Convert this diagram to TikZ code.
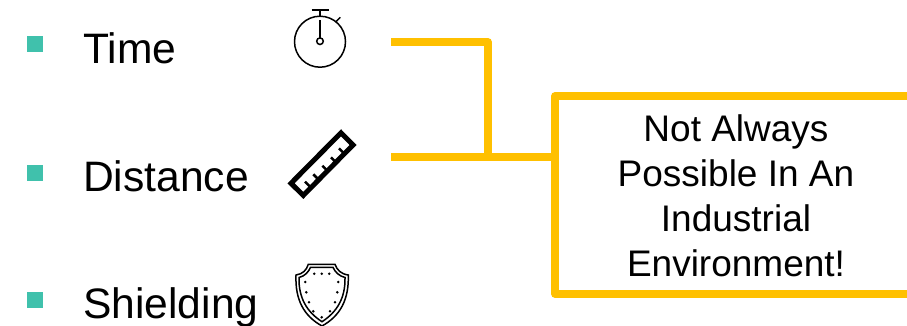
\documentclass[tikz,border=0pt]{standalone}
\usepackage{fontspec}
\setmainfont{Liberation Sans}
\definecolor{bulletgreen}{HTML}{40C1AC}
\definecolor{linkamber}{HTML}{FFC000}
\tikzset{
  item/.style={anchor=base west,inner sep=0pt,font=\fontsize{42.6}{42.6}\selectfont},
  bullet/.style={fill=bulletgreen,draw=none,minimum size=16pt,inner sep=0pt},
  link/.style={draw=linkamber,line width=7.5pt,line join=round},
  icon/.style={draw=black,line width=1.5pt},
}
\begin{document}
\begin{tikzpicture}[x=1pt,y=-1pt]
  \useasboundingbox (0,0) rectangle (907,325);

  % bullets and labels
  \node[bullet] (bt) at (35,44) {};
  \node[bullet] (bd) at (35,173) {};
  \node[bullet] (bs) at (35,300) {};
  \node[item] (time) at (83,63) {Time};
  \node[item] (dist) at (83,191) {Distance};
  \node[item] (shield) at (83,318) {Shielding};

  % connectors
  \coordinate (t0) at (391,42);
  \coordinate (d0) at (391,157);
  \coordinate (j) at (488,157);
  \coordinate (bx) at (555,157);
  \coordinate (tr) at (907,96);
  \coordinate (br) at (907,294);
  \draw[link] (t0) -| (j);
  \draw[link] (d0) -- (bx);
  \draw[link] (tr) -| (bx) |- (br);

  \node[align=center,inner sep=0pt,font=\fontsize{37}{45}\selectfont] (note) at (736,196)
    {Not Always\\Possible In An\\Industrial\\Environment!};

  % stopwatch
  \draw[icon] (320,41.7) circle (25.5);
  \draw[icon] (311.7,10) -- (328.7,10);
  \draw[icon] (320,10) -- (320,16.5);
  \draw[icon] (320,20) -- (320,38.2);
  \draw[icon] (320,41.2) circle (3.3);
  \draw[icon] (336,21.7) -- (340.3,17.3);

  % ruler
  \draw[line width=5pt,line join=miter] (341,132.8) -- (353,145) -- (303.3,195.4) -- (291,183.3) -- cycle;
  \foreach \tx/\ty in {305/181.7,313.3/174.3,322.3/165.7,331/157.3,339/148.3}
    \draw[line width=2.5pt] (\tx,\ty) -- ++(6.4,6.4);

  % shield
  \draw[line width=1.5pt] (308.3,264.3) -- (335,264.3)
    .. controls (337,270) and (341,274) .. (348.3,275)
    .. controls (349,300) and (340,316) .. (322,326)
    .. controls (304,316) and (295,300) .. (296,275)
    .. controls (303,274) and (306.5,270) .. (308.3,264.3) -- cycle;
  \draw[line width=1.5pt] (310.5,267.3) -- (333,267.3)
    .. controls (335,272) and (339,276) .. (345,277.5)
    .. controls (345.5,298) and (337,312) .. (322,321.7)
    .. controls (307,312) and (298.5,298) .. (299,277.5)
    .. controls (305,276) and (308.5,272) .. (310.5,267.3) -- cycle;
  \foreach \dx/\dy in {314.3/273.7,321.7/273.7,329.3/273.7,305.3/282,338.3/282,306.3/292.3,337.3/292.3,309/302.3,335/302.3,313.3/311.3,330/311.3,321.7/317.3}
    \fill (\dx,\dy) circle (1.4);
\end{tikzpicture}
\end{document}
